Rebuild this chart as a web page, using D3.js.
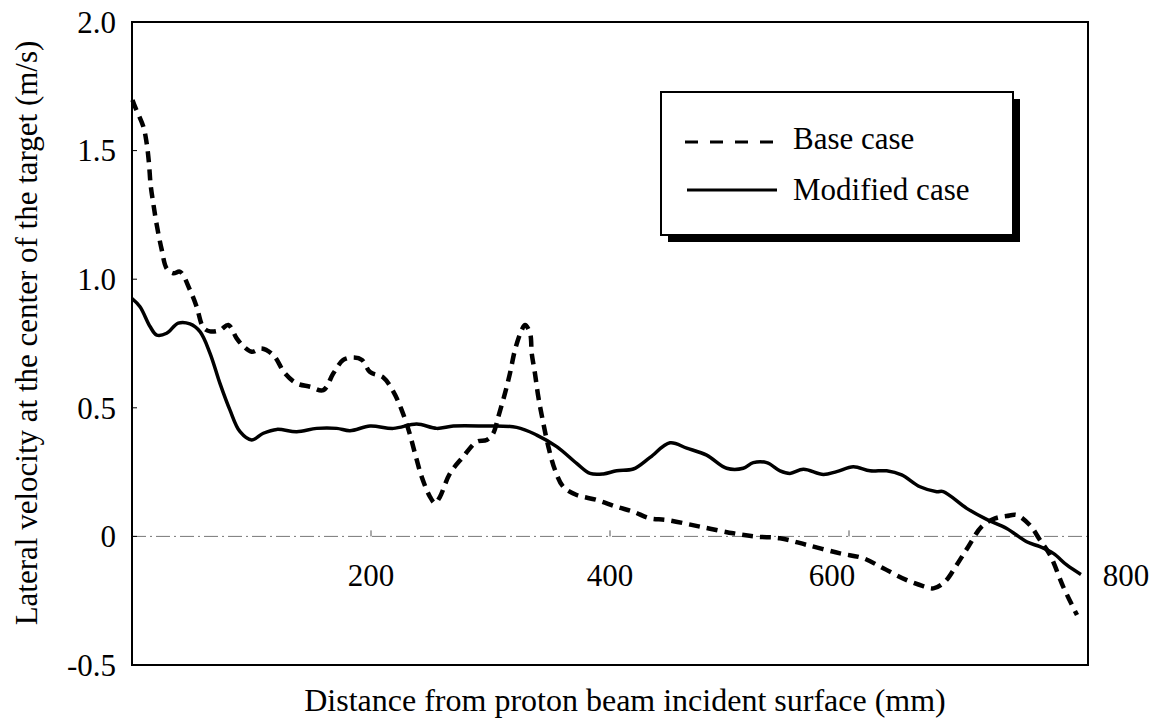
<!DOCTYPE html>
<html>
<head>
<meta charset="utf-8">
<script src="https://cdn.jsdelivr.net/npm/d3@7/dist/d3.min.js"></script>
<style>
  html, body { margin: 0; padding: 0; background: #fff; }
  svg { display: block; }
</style>
</head>
<body>
<svg id="chart" width="1153" height="721"></svg>
<script>
// ---- data ----
const modifiedX = [0, 6.7, 15.1, 20.7, 29.0, 38.7, 48.5, 56.9, 65.3, 73.6, 82.0, 90.4, 100.2, 109.9, 121.1, 137.8, 154.6, 171.3, 182.4, 199.2, 218.7, 238.2, 255.0, 268.9, 294.0, 321.9, 338.7, 355.4, 372.1, 383.3, 394.4, 405.6, 419.5, 433.5, 450.2, 464.2, 480.9, 497.6, 511.5, 519.9, 531.1, 542.3, 550.6, 561.8, 578.5, 589.7, 603.6, 617.6, 631.5, 644.1, 659.4, 673.4, 678.9, 698.5, 715.2, 732.0, 748.7, 759.8, 771.0, 782.2, 794.1];
const modifiedY = [0.925, 0.893, 0.816, 0.783, 0.790, 0.829, 0.826, 0.796, 0.712, 0.595, 0.491, 0.407, 0.375, 0.401, 0.416, 0.407, 0.420, 0.420, 0.411, 0.429, 0.420, 0.437, 0.420, 0.429, 0.429, 0.424, 0.394, 0.349, 0.284, 0.245, 0.243, 0.255, 0.262, 0.307, 0.364, 0.343, 0.316, 0.265, 0.265, 0.287, 0.287, 0.255, 0.245, 0.261, 0.241, 0.252, 0.271, 0.255, 0.255, 0.239, 0.193, 0.174, 0.174, 0.109, 0.066, 0.031, -0.021, -0.040, -0.066, -0.111, -0.148];

const baseX = [0.4, 2.5, 9.5, 12.3, 14.2, 15.6, 17.8, 20.7, 24.9, 29.0, 34.6, 40.2, 48.5, 54.1, 59.7, 65.3, 73.6, 80.6, 87.6, 93.1, 100.2, 108.5, 118.2, 128.0, 137.8, 149.0, 160.1, 168.5, 176.8, 185.8, 192.5, 199.2, 210.3, 218.7, 225.7, 231.8, 236.8, 242.4, 249.4, 253.6, 257.7, 266.1, 277.2, 288.5, 296.8, 302.3, 306.5, 312.1, 316.3, 320.5, 326.1, 328.9, 333.1, 334.5, 337.2, 340.0, 344.2, 348.4, 354.0, 360.9, 372.1, 388.9, 405.6, 419.5, 433.5, 447.4, 475.3, 503.2, 522.8, 542.3, 564.6, 592.5, 612.0, 628.7, 648.3, 662.0, 670.6, 680.3, 690.1, 699.8, 711.0, 722.2, 731.9, 740.3, 751.5, 759.8, 768.2, 779.3, 790.8];
const baseY = [1.697, 1.671, 1.593, 1.528, 1.451, 1.366, 1.295, 1.211, 1.114, 1.042, 1.023, 1.029, 0.958, 0.893, 0.812, 0.797, 0.802, 0.822, 0.770, 0.740, 0.718, 0.731, 0.705, 0.634, 0.595, 0.582, 0.569, 0.634, 0.686, 0.696, 0.686, 0.639, 0.618, 0.563, 0.491, 0.408, 0.323, 0.232, 0.154, 0.129, 0.154, 0.245, 0.310, 0.368, 0.375, 0.401, 0.465, 0.556, 0.634, 0.725, 0.802, 0.822, 0.790, 0.712, 0.634, 0.543, 0.440, 0.349, 0.258, 0.193, 0.161, 0.142, 0.115, 0.096, 0.070, 0.064, 0.038, 0.012, -0.001, -0.007, -0.033, -0.066, -0.085, -0.124, -0.170, -0.193, -0.202, -0.176, -0.111, -0.040, 0.038, 0.070, 0.079, 0.083, 0.043, -0.014, -0.072, -0.196, -0.306];

const yTicks = [2.0, 1.5, 1.0, 0.5, 0, -0.5];
const yTickLabels = ["2.0", "1.5", "1.0", "0.5", "0", "-0.5"];
const xTicks = [200, 400, 600, 800];
const xTickLabels = ["200", "400", "600", "800"];
const seriesNames = ["Base case", "Modified case"];
const xTitle = "Distance from proton beam incident surface (mm)";
const yTitle = "Lateral velocity at the center of the target (m/s)";

// ---- layout ----
const FONT = "'Liberation Serif', 'DejaVu Serif', 'Times New Roman', serif";
const svg = d3.select("#chart").attr("font-family", FONT);
const L = 132, R = 1088, T = 22, B = 665;
const x = d3.scaleLinear().domain([0, 800]).range([L, R]);
const y = d3.scaleLinear().domain([-0.5, 2.0]).range([B, T]);

// zero reference line (dash-dot, thin grey)
svg.append("line")
  .attr("x1", L).attr("x2", R).attr("y1", y(0)).attr("y2", y(0))
  .attr("stroke", "#777").attr("stroke-width", 1)
  .attr("stroke-dasharray", "14,4,2,4");

// small ticks on zero line
svg.selectAll(".xtick").data(xTicks.slice(0, 3)).enter().append("line")
  .attr("x1", d => x(d)).attr("x2", d => x(d))
  .attr("y1", y(0) - 6).attr("y2", y(0))
  .attr("stroke", "#555").attr("stroke-width", 1);

// small ticks on left axis
svg.selectAll(".ytick").data(yTicks).enter().append("line")
  .attr("x1", L).attr("x2", L + 5)
  .attr("y1", d => y(d)).attr("y2", d => y(d))
  .attr("stroke", "#000").attr("stroke-width", 1);

// curves
const line = d3.line().x(d => x(d[0])).y(d => y(d[1])).curve(d3.curveCatmullRom.alpha(0.5));
const basePts = baseX.map((v, i) => [v, baseY[i]]);
const modPts = modifiedX.map((v, i) => [v, modifiedY[i]]);

svg.append("path").datum(modPts)
  .attr("d", line).attr("fill", "none")
  .attr("stroke", "#000").attr("stroke-width", 3.5)
  .attr("stroke-linejoin", "round");

svg.append("path").datum(basePts)
  .attr("d", line).attr("fill", "none")
  .attr("stroke", "#000").attr("stroke-width", 4.5)
  .attr("stroke-dasharray", "11,7");

// frame
svg.append("rect")
  .attr("x", L).attr("y", T).attr("width", R - L).attr("height", B - T)
  .attr("fill", "none").attr("stroke", "#000").attr("stroke-width", 2);

// y tick labels
svg.selectAll(".ylab").data(yTicks).enter().append("text")
  .attr("x", 116).attr("y", d => y(d))
  .attr("dy", "0.35em")
  .attr("text-anchor", "end")
  .attr("font-size", 31)
  .text((d, i) => yTickLabels[i]);

// x tick labels (placed below zero line, as in the original)
svg.selectAll(".xlab").data(xTicks).enter().append("text")
  .attr("x", d => x(d) + (d === 800 ? 38 : d === 600 ? -17 : 0))
  .attr("y", y(0) + 50)
  .attr("text-anchor", "middle")
  .attr("font-size", 31)
  .text((d, i) => xTickLabels[i]);

// axis titles
svg.append("text")
  .attr("x", 625).attr("y", 711)
  .attr("text-anchor", "middle")
  .attr("font-size", 32)
  .text(xTitle);

svg.append("text")
  .attr("transform", "translate(37,333) rotate(-90)")
  .attr("text-anchor", "middle")
  .attr("font-size", 31)
  .text(yTitle);

// legend
const lg = svg.append("g");
lg.append("rect").attr("x", 668).attr("y", 99).attr("width", 352).attr("height", 143).attr("fill", "#000");
lg.append("rect").attr("x", 661).attr("y", 92).attr("width", 352).attr("height", 143)
  .attr("fill", "#fff").attr("stroke", "#000").attr("stroke-width", 2);
lg.append("line").attr("x1", 685).attr("x2", 775).attr("y1", 142).attr("y2", 142)
  .attr("stroke", "#000").attr("stroke-width", 3).attr("stroke-dasharray", "13,12");
lg.append("line").attr("x1", 687).attr("x2", 777).attr("y1", 190).attr("y2", 190)
  .attr("stroke", "#000").attr("stroke-width", 3);
lg.append("text").attr("x", 793).attr("y", 149).attr("font-size", 31).text(seriesNames[0]);
lg.append("text").attr("x", 793).attr("y", 200).attr("font-size", 31).text(seriesNames[1]);
</script>
</body>
</html>
